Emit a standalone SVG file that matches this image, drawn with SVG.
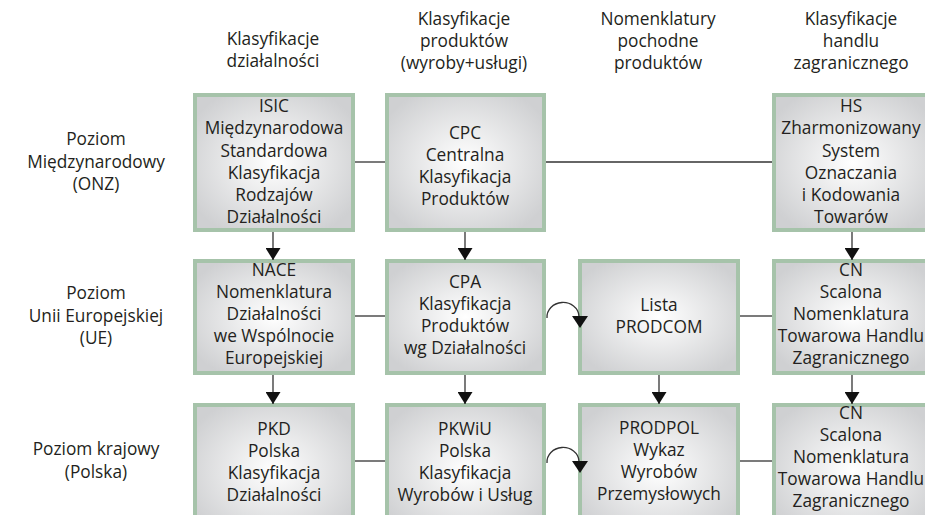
<svg xmlns="http://www.w3.org/2000/svg" width="925" height="515" viewBox="0 0 925 515">
<style>
text{font-family:"Open Sans","Liberation Sans",sans-serif;font-size:17.3px;fill:#231f20;text-anchor:middle}
.box{fill:url(#g);stroke:#a6c3aa;stroke-width:4}
.c{fill:none;stroke:#333;stroke-width:1.3}
.h{fill:#111}
</style>
<defs>
<radialGradient id="g" cx="0.5" cy="0.5" r="0.6">
<stop offset="0" stop-color="#ffffff"/>
<stop offset="1" stop-color="#cfd0d2"/>
</radialGradient>
<marker id="a" markerUnits="userSpaceOnUse" viewBox="0 0 12 15" markerWidth="12" markerHeight="15" refX="12" refY="7.5" orient="auto">
<path d="M0,0 L12,7.5 L0,15 z" fill="#111"/>
</marker>
</defs>
<rect width="925" height="515" fill="#fff"/>
<g id="headers">
<text x="273" y="45">Klasyfikacje</text><text x="273" y="67">działalności</text>
<text x="464" y="25">Klasyfikacje</text><text x="464" y="47">produktów</text><text x="464" y="69">(wyroby+usługi)</text>
<text x="658" y="25">Nomenklatury</text><text x="658" y="47">pochodne</text><text x="658" y="69">produktów</text>
<text x="851" y="25">Klasyfikacje</text><text x="851" y="47">handlu</text><text x="851" y="69">zagranicznego</text>
</g>
<g id="rowlabels">
<text x="96" y="145">Poziom</text><text x="96" y="168">Międzynarodowy</text><text x="96" y="190">(ONZ)</text>
<text x="96" y="299">Poziom</text><text x="96" y="322">Unii Europejskiej</text><text x="96" y="344">(UE)</text>
<text x="96" y="455">Poziom krajowy</text><text x="96" y="478">(Polska)</text>
</g>
<g id="isic">
<rect class="box" x="195" y="95" width="158" height="135"/>
<text x="274" y="112">ISIC</text><text x="274" y="134">Międzynarodowa</text><text x="274" y="157">Standardowa</text><text x="274" y="179">Klasyfikacja</text><text x="274" y="201">Rodzajów</text><text x="274" y="223">Działalności</text>
</g>
<g id="cpc">
<rect class="box" x="387" y="95" width="157" height="135"/>
<text x="465" y="139">CPC</text><text x="465" y="161">Centralna</text><text x="465" y="183">Klasyfikacja</text><text x="465" y="205">Produktów</text>
</g>
<g id="hs">
<rect class="box" x="774" y="95" width="158" height="135"/>
<text x="851" y="112">HS</text><text x="851" y="134">Zharmonizowany</text><text x="851" y="157">System</text><text x="851" y="179">Oznaczania</text><text x="851" y="201">i Kodowania</text><text x="851" y="223">Towarów</text>
</g>
<g id="nace">
<rect class="box" x="195" y="261" width="158" height="112"/>
<text x="274" y="276">NACE</text><text x="274" y="298">Nomenklatura</text><text x="274" y="320">Działalności</text><text x="274" y="342">we Wspólnocie</text><text x="274" y="364">Europejskiej</text>
</g>
<g id="cpa">
<rect class="box" x="387" y="261" width="157" height="112"/>
<text x="465" y="288">CPA</text><text x="465" y="310">Klasyfikacja</text><text x="465" y="332">Produktów</text><text x="465" y="354">wg Działalności</text>
</g>
<g id="prodcom">
<rect class="box" x="580" y="261" width="158" height="112"/>
<text x="659" y="311">Lista</text><text x="659" y="333">PRODCOM</text>
</g>
<g id="cn1">
<rect class="box" x="774" y="261" width="158" height="112"/>
<text x="851" y="276">CN</text><text x="851" y="298">Scalona</text><text x="851" y="320">Nomenklatura</text><text x="851" y="342">Towarowa Handlu</text><text x="851" y="364">Zagranicznego</text>
</g>
<g id="pkd">
<rect class="box" x="195" y="405" width="158" height="130"/>
<text x="274" y="435">PKD</text><text x="274" y="457">Polska</text><text x="274" y="479">Klasyfikacja</text><text x="274" y="501">Działalności</text>
</g>
<g id="pkwiu">
<rect class="box" x="387" y="405" width="157" height="130"/>
<text x="465" y="435">PKWiU</text><text x="465" y="457">Polska</text><text x="465" y="479">Klasyfikacja</text><text x="465" y="501">Wyrobów i Usług</text>
</g>
<g id="prodpol">
<rect class="box" x="580" y="405" width="158" height="130"/>
<text x="659" y="434">PRODPOL</text><text x="659" y="456">Wykaz</text><text x="659" y="478">Wyrobów</text><text x="659" y="500">Przemysłowych</text>
</g>
<g id="cn2">
<rect class="box" x="774" y="405" width="158" height="130"/>
<text x="851" y="419">CN</text><text x="851" y="441">Scalona</text><text x="851" y="463">Nomenklatura</text><text x="851" y="485">Towarowa Handlu</text><text x="851" y="507">Zagranicznego</text>
</g>
<g id="connectors">
<line class="c" x1="355" y1="162" x2="385" y2="162"/>
<line class="c" x1="546" y1="162" x2="772" y2="162"/>
<line class="c" x1="355" y1="316" x2="385" y2="316"/>
<line class="c" x1="740" y1="316" x2="772" y2="316"/>
<line class="c" x1="355" y1="461" x2="385" y2="461"/>
<line class="c" x1="740" y1="461" x2="772" y2="461"/>
<path class="c" d="M547,318 A16,14.5 0 0 1 579,316"/>
<polygon class="h" points="572,316 588,316 580,328"/>
<path class="c" d="M547,463 A16,14.5 0 0 1 579,461"/>
<polygon class="h" points="572,461 588,461 580,473"/>
<line class="c" x1="273" y1="232" x2="273" y2="260" marker-end="url(#a)"/>
<line class="c" x1="465" y1="232" x2="465" y2="260" marker-end="url(#a)"/>
<line class="c" x1="852" y1="232" x2="852" y2="260" marker-end="url(#a)"/>
<line class="c" x1="273" y1="375" x2="273" y2="404" marker-end="url(#a)"/>
<line class="c" x1="465" y1="375" x2="465" y2="404" marker-end="url(#a)"/>
<line class="c" x1="659" y1="375" x2="659" y2="404" marker-end="url(#a)"/>
<line class="c" x1="852" y1="375" x2="852" y2="404" marker-end="url(#a)"/>
</g>
</svg>
